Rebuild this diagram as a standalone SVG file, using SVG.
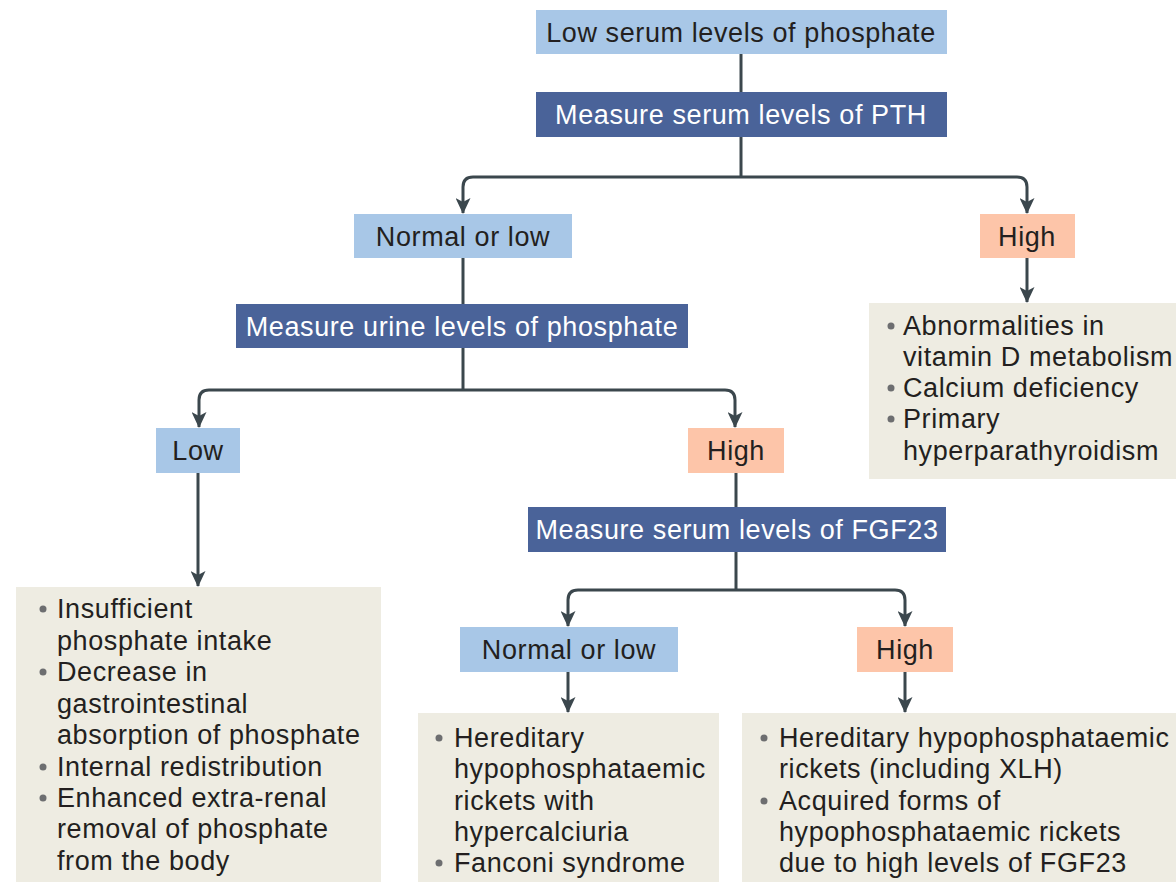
<svg xmlns="http://www.w3.org/2000/svg" width="1176" height="882" viewBox="0 0 1176 882">
<style>
.lb{fill:#a8c7e7}.hi{fill:#fdc5a9}.dk{fill:#4a6399}.rs{fill:#eeece2}
text{font-family:"Liberation Sans",Arial,sans-serif;font-size:27px;letter-spacing:0.6px;fill:#231f20}
.w{fill:#ffffff}
.c{text-anchor:middle}
.b{fill:#6d6e70}
.cn{fill:none;stroke:#3b474d;stroke-width:3}
</style>
<defs>
<marker id="ah" markerUnits="userSpaceOnUse" markerWidth="16" markerHeight="15" refX="15" refY="7.5" orient="auto" viewBox="0 0 16 15">
<path d="M0,0 L16,7.5 L0,15 L4,7.5 Z" fill="#3b474d"/>
</marker>
</defs>
<g id="connectors">
<path class="cn" d="M741 54 V92"/>
<path class="cn" d="M741 137 V177"/>
<path class="cn" d="M741 177 H473 Q463 177 463 187 V213" marker-end="url(#ah)"/>
<path class="cn" d="M741 177 H1017 Q1027 177 1027 187 V213" marker-end="url(#ah)"/>
<path class="cn" d="M1027 258 V302" marker-end="url(#ah)"/>
<path class="cn" d="M463 258 V304"/>
<path class="cn" d="M463 348 V390"/>
<path class="cn" d="M463 390 H209 Q199 390 199 400 V427" marker-end="url(#ah)"/>
<path class="cn" d="M463 390 H725 Q735 390 735 400 V427" marker-end="url(#ah)"/>
<path class="cn" d="M198 473 V586" marker-end="url(#ah)"/>
<path class="cn" d="M736 473 V507"/>
<path class="cn" d="M736 552 V590"/>
<path class="cn" d="M736 590 H578 Q568 590 568 600 V626" marker-end="url(#ah)"/>
<path class="cn" d="M736 590 H895 Q905 590 905 600 V626" marker-end="url(#ah)"/>
<path class="cn" d="M568 672 V712" marker-end="url(#ah)"/>
<path class="cn" d="M905 672 V712" marker-end="url(#ah)"/>
</g>
<g id="n-low-serum">
<rect class="lb" x="536" y="10" width="411" height="44"/>
<text class="c" x="741" y="42">Low serum levels of phosphate</text>
</g>
<g id="n-pth">
<rect class="dk" x="536" y="92" width="411" height="45"/>
<text class="c w" x="741" y="124">Measure serum levels of PTH</text>
</g>
<g id="n-normal1">
<rect class="lb" x="354" y="214" width="218" height="44"/>
<text class="c" x="463" y="246">Normal or low</text>
</g>
<g id="n-high1">
<rect class="hi" x="980" y="214" width="95" height="44"/>
<text class="c" x="1027" y="246">High</text>
</g>
<g id="n-res-high1">
<rect class="rs" x="869" y="303" width="307" height="176"/>
<circle class="b" cx="891" cy="326" r="3.5"/>
<text x="903" y="335">Abnormalities in</text>
<text x="903" y="366">vitamin D metabolism</text>
<circle class="b" cx="891" cy="388" r="3.5"/>
<text x="903" y="397">Calcium deficiency</text>
<circle class="b" cx="891" cy="419" r="3.5"/>
<text x="903" y="428">Primary</text>
<text x="903" y="460">hyperparathyroidism</text>
</g>
<g id="n-urine">
<rect class="dk" x="236" y="304" width="452" height="44"/>
<text class="c w" x="462" y="336">Measure urine levels of phosphate</text>
</g>
<g id="n-low2">
<rect class="lb" x="156" y="428" width="84" height="45"/>
<text class="c" x="198" y="460">Low</text>
</g>
<g id="n-high2">
<rect class="hi" x="688" y="428" width="96" height="45"/>
<text class="c" x="736" y="460">High</text>
</g>
<g id="n-res-low2">
<rect class="rs" x="16" y="587" width="365" height="295"/>
<circle class="b" cx="43" cy="609" r="3.5"/>
<text x="57" y="618">Insufficient</text>
<text x="57" y="650">phosphate intake</text>
<circle class="b" cx="43" cy="672" r="3.5"/>
<text x="57" y="681">Decrease in</text>
<text x="57" y="713">gastrointestinal</text>
<text x="57" y="744">absorption of phosphate</text>
<circle class="b" cx="43" cy="767" r="3.5"/>
<text x="57" y="776">Internal redistribution</text>
<circle class="b" cx="43" cy="798" r="3.5"/>
<text x="57" y="807">Enhanced extra-renal</text>
<text x="57" y="838">removal of phosphate</text>
<text x="57" y="870">from the body</text>
</g>
<g id="n-fgf23">
<rect class="dk" x="528" y="507" width="418" height="45"/>
<text class="c w" x="737" y="539">Measure serum levels of FGF23</text>
</g>
<g id="n-normal3">
<rect class="lb" x="460" y="627" width="218" height="45"/>
<text class="c" x="569" y="659">Normal or low</text>
</g>
<g id="n-high3">
<rect class="hi" x="857" y="627" width="96" height="45"/>
<text class="c" x="905" y="659">High</text>
</g>
<g id="n-res-normal3">
<rect class="rs" x="418" y="713" width="301" height="169"/>
<circle class="b" cx="439" cy="738" r="3.5"/>
<text x="454" y="747">Hereditary</text>
<text x="454" y="778">hypophosphataemic</text>
<text x="454" y="810">rickets with</text>
<text x="454" y="841">hypercalciuria</text>
<circle class="b" cx="439" cy="863" r="3.5"/>
<text x="454" y="872">Fanconi syndrome</text>
</g>
<g id="n-res-high3">
<rect class="rs" x="742" y="713" width="434" height="169"/>
<circle class="b" cx="764" cy="738" r="3.5"/>
<text x="779" y="747">Hereditary hypophosphataemic</text>
<text x="779" y="778">rickets (including XLH)</text>
<circle class="b" cx="764" cy="801" r="3.5"/>
<text x="779" y="810">Acquired forms of</text>
<text x="779" y="841">hypophosphataemic rickets</text>
<text x="779" y="872">due to high levels of FGF23</text>
</g>
</svg>
